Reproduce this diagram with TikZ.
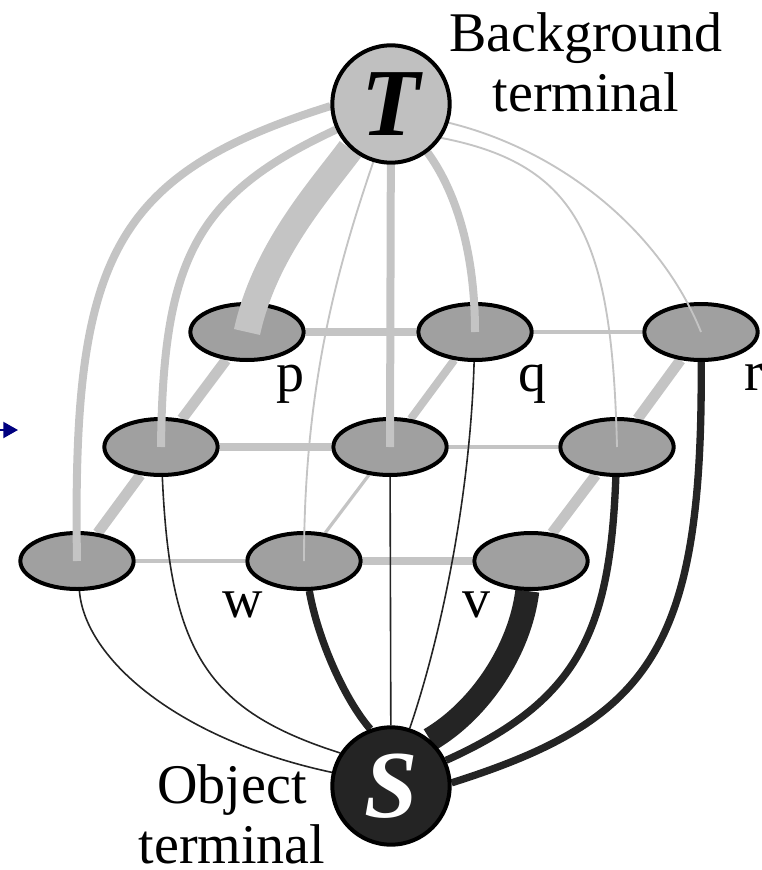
\documentclass[tikz,border=0pt]{standalone}
\usepackage{fontspec}
\setmainfont{Liberation Serif}
\usetikzlibrary{shapes.geometric,arrows.meta}
\definecolor{edgegray}{RGB}{196,196,196}
\definecolor{pixgray}{RGB}{160,160,160}
\definecolor{termgray}{RGB}{192,192,192}
\definecolor{darkedge}{RGB}{36,36,36}
\definecolor{navyblue}{RGB}{0,0,128}
\pgfdeclarelayer{edges}
\pgfdeclarelayer{front}
\pgfsetlayers{edges,main,front}

\begin{document}
\begin{tikzpicture}[x=0.75pt,y=0.75pt,yscale=-1,xscale=1,
  pixel/.style={ellipse,draw,line width=3pt,fill=pixgray,minimum width=85pt,minimum height=42pt,inner sep=0pt},
  term/.style={circle,draw,line width=3pt,minimum size=88pt,inner sep=0pt,font=\fontsize{72}{72}\selectfont\bfseries\itshape},
  gthin/.style={draw=edgegray,line width=1.4pt},
  glight/.style={draw=edgegray,line width=2.4pt},
  gmid/.style={draw=edgegray,line width=6pt},
  gwide/.style={draw=edgegray,line width=8pt},
  gfat/.style={draw=edgegray,line width=20pt},
  dthin/.style={draw=darkedge,line width=1.2pt},
  dmid/.style={draw=darkedge,line width=5.5pt},
  dfat/.style={draw=darkedge,line width=18pt},
  lbl/.style={font=\fontsize{42}{45}\selectfont,inner sep=0pt}]
\useasboundingbox (0,0) rectangle (761,870);
%Shape: Circle (terminals)
\begin{pgfonlayer}{front}
\node[term,fill=termgray] (T) at (391,104) {T};
\node[term,fill=darkedge,text=white] (S) at (391,786) {S};
\end{pgfonlayer}
%Shape: Ellipse (pixels)
\node[pixel] (p) at (247,332) {};
\node[pixel] (q) at (475,332) {};
\node[pixel] (r) at (701,332) {};
\node[pixel] (a) at (161,447) {};
\node[pixel] (b) at (390,447) {};
\node[pixel] (c) at (617,447) {};
\node[pixel] (d) at (77,561) {};
\node[pixel] (w) at (304,561) {};
\node[pixel] (v) at (531,561) {};
\begin{pgfonlayer}{edges}
%Straight Lines (neighbour links)
\draw[gmid] (p) -- (q);
\draw[glight] (q) -- (r);
\draw[gmid] (a) -- (b);
\draw[glight] (b) -- (c);
\draw[glight] (d) -- (w);
\draw[gmid] (w) -- (v);
\draw[gwide] (p) -- (a);
\draw[gwide] (a) -- (d);
\draw[gmid] (q) -- (b);
\draw[glight] (b) -- (w);
\draw[gwide] (r) -- (c);
\draw[gwide] (c) -- (v);
%Curve Lines (object links)
\draw[dthin] (d) .. controls (85,660) and (180,740) .. (S.167);
\draw[dthin] (a) .. controls (170,650) and (205,710) .. (S.147);
\draw[dmid] (w) .. controls (318,640) and (345,700) .. (S.110);
\draw[dthin] (b) -- (S);
\draw[dthin] (q) .. controls (470,500) and (440,640) .. (S.72);
\draw[dfat] (v) .. controls (520,650) and (480,710) .. (S.50);
\draw[dmid] (c) .. controls (610,630) and (580,700) .. (S.25);
\draw[dmid] (r) .. controls (703,650) and (650,720) .. (S.3);
\end{pgfonlayer}
%Curve Lines (background links)
\draw[gmid] (T.182) .. controls (110,175) and (72,260) .. (d.center);
\draw[gmid] (T.205) .. controls (195,195) and (163,260) .. (a.center);
\draw[gfat] (T.228) .. controls (320,190) and (265,250) .. (p.center);
\draw[gthin] (T.253) .. controls (340,260) and (304,380) .. (w.center);
\draw[gmid] (T) -- (b.center);
\draw[gmid] (T.307) .. controls (455,190) and (475,250) .. (q.center);
\draw[gthin] (T.326) .. controls (580,165) and (612,240) .. (c.center);
\draw[gthin] (T.342) .. controls (560,150) and (660,230) .. (r.center);
%Arrow (left margin)
\coordinate (arrowfrom) at (0,430);
\coordinate (arrowto) at (18,430);
\draw[navyblue,line width=1.5pt,-{Triangle[length=11pt,width=12pt]}] (arrowfrom) -- (arrowto);
% Text Node
\node[lbl,anchor=base] (lp) at (290,391) {p};
\node[lbl,anchor=base] (lq) at (532,391) {q};
\node[lbl,anchor=base] (lr) at (754,390) {r};
\node[lbl,anchor=base] (lw) at (243,617) {w};
\node[lbl,anchor=base] (lv) at (476,617) {v};
% Text Node
\node[lbl,align=center,anchor=north] (bgtext) at (586,12) {Background\\terminal};
% Text Node
\node[lbl,align=center,anchor=north] (objtext) at (232,764) {Object\\terminal};
\end{tikzpicture}
\end{document}
